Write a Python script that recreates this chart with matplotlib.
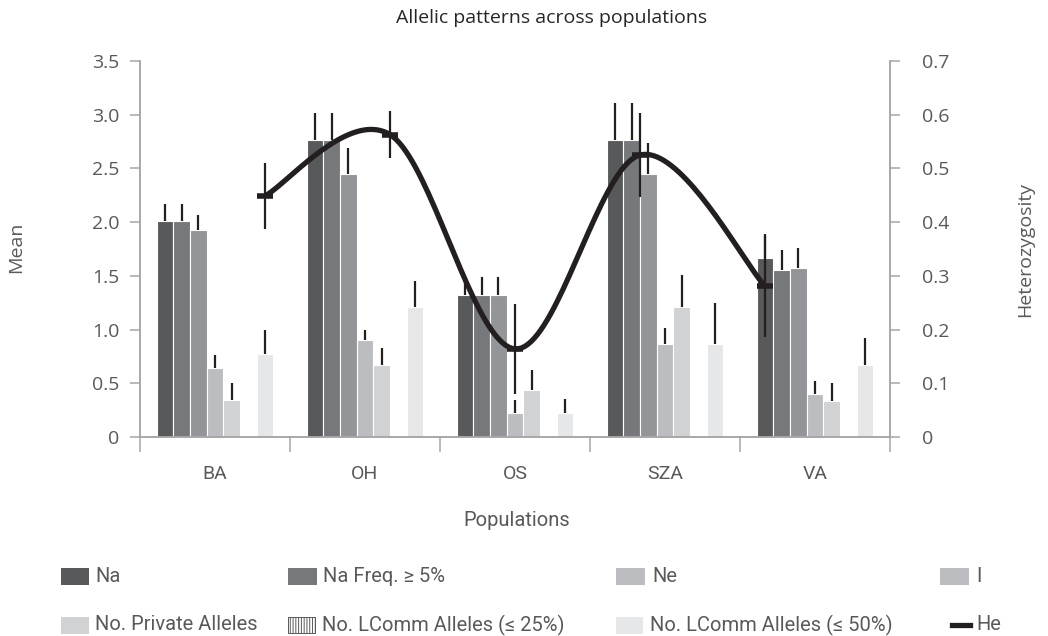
import numpy as np
import matplotlib
matplotlib.use('Agg')
import matplotlib.pyplot as plt
from matplotlib.patches import Rectangle
from matplotlib.lines import Line2D

plt.rcParams['font.family'] = ['Open Sans', 'DejaVu Sans']
plt.rcParams['hatch.linewidth'] = 0.7

populations = ['BA', 'OH', 'OS', 'SZA', 'VA']

na = [2.01, 2.765, 1.32, 2.765, 1.67]
na_err = [0.16, 0.25, 0.17, 0.34, 0.22]
na_freq = [2.01, 2.765, 1.32, 2.765, 1.555]
na_freq_err = [0.16, 0.25, 0.17, 0.34, 0.19]
ne = [1.93, 2.45, 1.32, 2.45, 1.57]
ne_err = [0.14, 0.24, 0.17, 0.29, 0.19]
info = [0.64, 0.90, 0.22, 0.87, 0.40]
info_err = [0.12, 0.10, 0.12, 0.14, 0.12]
private = [0.34, 0.67, 0.44, 1.21, 0.335]
private_err = [0.16, 0.16, 0.18, 0.30, 0.17]
lcomm25 = [0, 0, 0, 0, 0]
lcomm25_err = [0, 0, 0, 0, 0]
lcomm50 = [0.77, 1.21, 0.22, 0.87, 0.67]
lcomm50_err = [0.23, 0.24, 0.13, 0.38, 0.25]

he = [0.449, 0.563, 0.164, 0.525, 0.281]
he_err = [0.062, 0.044, 0.084, 0.078, 0.094]

left_ticks = [0, 0.5, 1.0, 1.5, 2.0, 2.5, 3.0, 3.5]
left_labels = ['0', '0.5', '1.0', '1.5', '2.0', '2.5', '3.0', '3.5']
right_ticks = [0, 0.1, 0.2, 0.3, 0.4, 0.5, 0.6, 0.7]
right_labels = ['0', '0.1', '0.2', '0.3', '0.4', '0.5', '0.6', '0.7']

series = [
    ('Na', na, na_err, '#58595b'),
    ('Na Freq. \u2265 5%', na_freq, na_freq_err, '#77787b'),
    ('Ne', ne, ne_err, '#939598'),
    ('I', info, info_err, '#bcbdc0'),
    ('No. Private Alleles', private, private_err, '#d1d2d4'),
    ('No. LComm Alleles (\u2264 25%)', lcomm25, lcomm25_err, '#ffffff'),
    ('No. LComm Alleles (\u2264 50%)', lcomm50, lcomm50_err, '#e6e7e8'),
]

text_col = '#595959'
axis_col = '#a6a6a6'
ink = '#231f20'
narrow = ['Roboto', 'DejaVu Sans']
W, H = 1048, 636


def smooth(xs, ys, n=40):
    # bezier smoothing through every point, like a spreadsheet "smoothed line"
    pts = np.column_stack([xs, ys])
    out = [pts[:1]]
    for i in range(len(pts) - 1):
        p0 = pts[max(i - 1, 0)]
        p1 = pts[i]
        p2 = pts[i + 1]
        p3 = pts[min(i + 2, len(pts) - 1)]
        c1 = p1 + (p2 - p0) / 6
        c2 = p2 - (p3 - p1) / 6
        t = np.linspace(0, 1, n)[1:, None]
        seg = ((1 - t) ** 3) * p1 + 3 * ((1 - t) ** 2) * t * c1 + 3 * (1 - t) * t ** 2 * c2 + t ** 3 * p2
        out.append(seg)
    out = np.vstack(out)
    return out[:, 0], out[:, 1]


fig = plt.figure(figsize=(W / 100, H / 100), dpi=100)
ax = fig.add_axes([140 / W, 1 - 437 / H, 750 / W, 376 / H])

x = np.arange(len(populations))
w = 0.111
for i, (name, vals, errs, col) in enumerate(series):
    pos = x + (i - 3) * w
    ax.bar(pos, vals, width=w, color=col, edgecolor='white', linewidth=0.8, zorder=2)
    if any(errs):
        ax.errorbar(pos, vals, yerr=[np.zeros(len(errs)), errs], fmt='none',
                    ecolor=ink, elinewidth=1.6, capsize=0, zorder=3)

ax.set_xlim(-0.5, len(populations) - 0.5)
ax.set_ylim(0, 3.5)
ax.set_yticks(left_ticks)
ax.set_yticklabels(left_labels)
ax.set_xticks(x)
ax.set_xticklabels(populations, fontsize=14, color=text_col, family=narrow)
ax.set_xticks(np.arange(-0.5, len(populations)), minor=True)
ax.tick_params(axis='x', which='major', length=0, pad=20)
ax.tick_params(axis='x', which='minor', length=11, width=1.1, color=axis_col)
ax.tick_params(axis='y', length=7, width=1.1, color=axis_col, labelsize=14,
               labelcolor=text_col, pad=8)
ax.spines['top'].set_visible(False)
for s in ['left', 'right', 'bottom']:
    ax.spines[s].set_color(axis_col)
    ax.spines[s].set_linewidth(1.1)

# heterozygosity on the secondary axis
ax2 = ax.twinx()
ax2.set_ylim(0, 0.7)
ax2.set_yticks(right_ticks)
ax2.set_yticklabels(right_labels)
ax2.tick_params(axis='y', length=7, width=1.1, color=axis_col, labelsize=14,
                labelcolor=text_col, pad=16)
ax2.spines['top'].set_visible(False)
for s in ['left', 'right', 'bottom']:
    ax2.spines[s].set_color(axis_col)
    ax2.spines[s].set_linewidth(1.1)

he_x = np.linspace(1 / 3, 11 / 3, len(he))
sx, sy = smooth(he_x, he)
ax2.plot(sx, sy, color=ink, lw=3.8, solid_capstyle='butt', zorder=4)
ax2.plot(he_x, he, ls='none', marker='_', ms=12, mew=4, color=ink, zorder=5)
ax2.errorbar(he_x, he, yerr=he_err, fmt='none', ecolor=ink, elinewidth=1.6,
             capsize=0, zorder=6)

fig.text(552 / W, 1 - 23 / H, 'Allelic patterns across populations', ha='center',
         va='baseline', fontsize=14, color='#262626')
fig.text(517 / W, 1 - 520 / H, 'Populations', ha='center', va='center',
         fontsize=14.5, color=text_col, family=narrow)
fig.text(16 / W, 1 - 247 / H, 'Mean', rotation=90, ha='center', va='center',
         fontsize=14, color=text_col)
fig.text(1025 / W, 1 - 249 / H, 'Heterozygosity', rotation=90, ha='center',
         va='center', fontsize=14, color=text_col)

# legend keys: (key left, row centre, key width, text left, label, style)
legend_keys = [
    (61, 576, 28, 95, 'Na', '#58595b'),
    (288, 576, 29, 323, 'Na Freq. \u2265 5%', '#77787b'),
    (616, 576, 29, 652, 'Ne', '#bcbdc0'),
    (940, 576, 29, 976, 'I', '#bcbdc0'),
    (61, 625, 28, 95, 'No. Private Alleles', '#d1d2d4'),
    (288, 625, 27, 322, 'No. LComm Alleles (\u2264 25%)', 'hatch'),
    (616, 625, 27, 650, 'No. LComm Alleles (\u2264 50%)', '#e6e7e8'),
    (952, 625, 18, 976, 'He', 'line'),
]
for x0, yc, kw, tx, label, style in legend_keys:
    if style == 'line':
        fig.add_artist(Line2D([x0 / W, (x0 + kw) / W], [1 - yc / H, 1 - yc / H],
                              color=ink, lw=3.8, transform=fig.transFigure))
    elif style == 'hatch':
        fig.add_artist(Rectangle((x0 / W, 1 - (yc + 8) / H), kw / W, 16 / H,
                                 facecolor='white', edgecolor='#58595b', hatch='||||||',
                                 lw=0.7, transform=fig.transFigure))
    else:
        fig.add_artist(Rectangle((x0 / W, 1 - (yc + 8.5) / H), kw / W, 17 / H,
                                 facecolor=style, edgecolor='none',
                                 transform=fig.transFigure))
    fig.text(tx / W, 1 - yc / H, label, ha='left', va='center', fontsize=14.5,
             color=text_col, family=narrow)

fig.savefig('out.png', dpi=100)
